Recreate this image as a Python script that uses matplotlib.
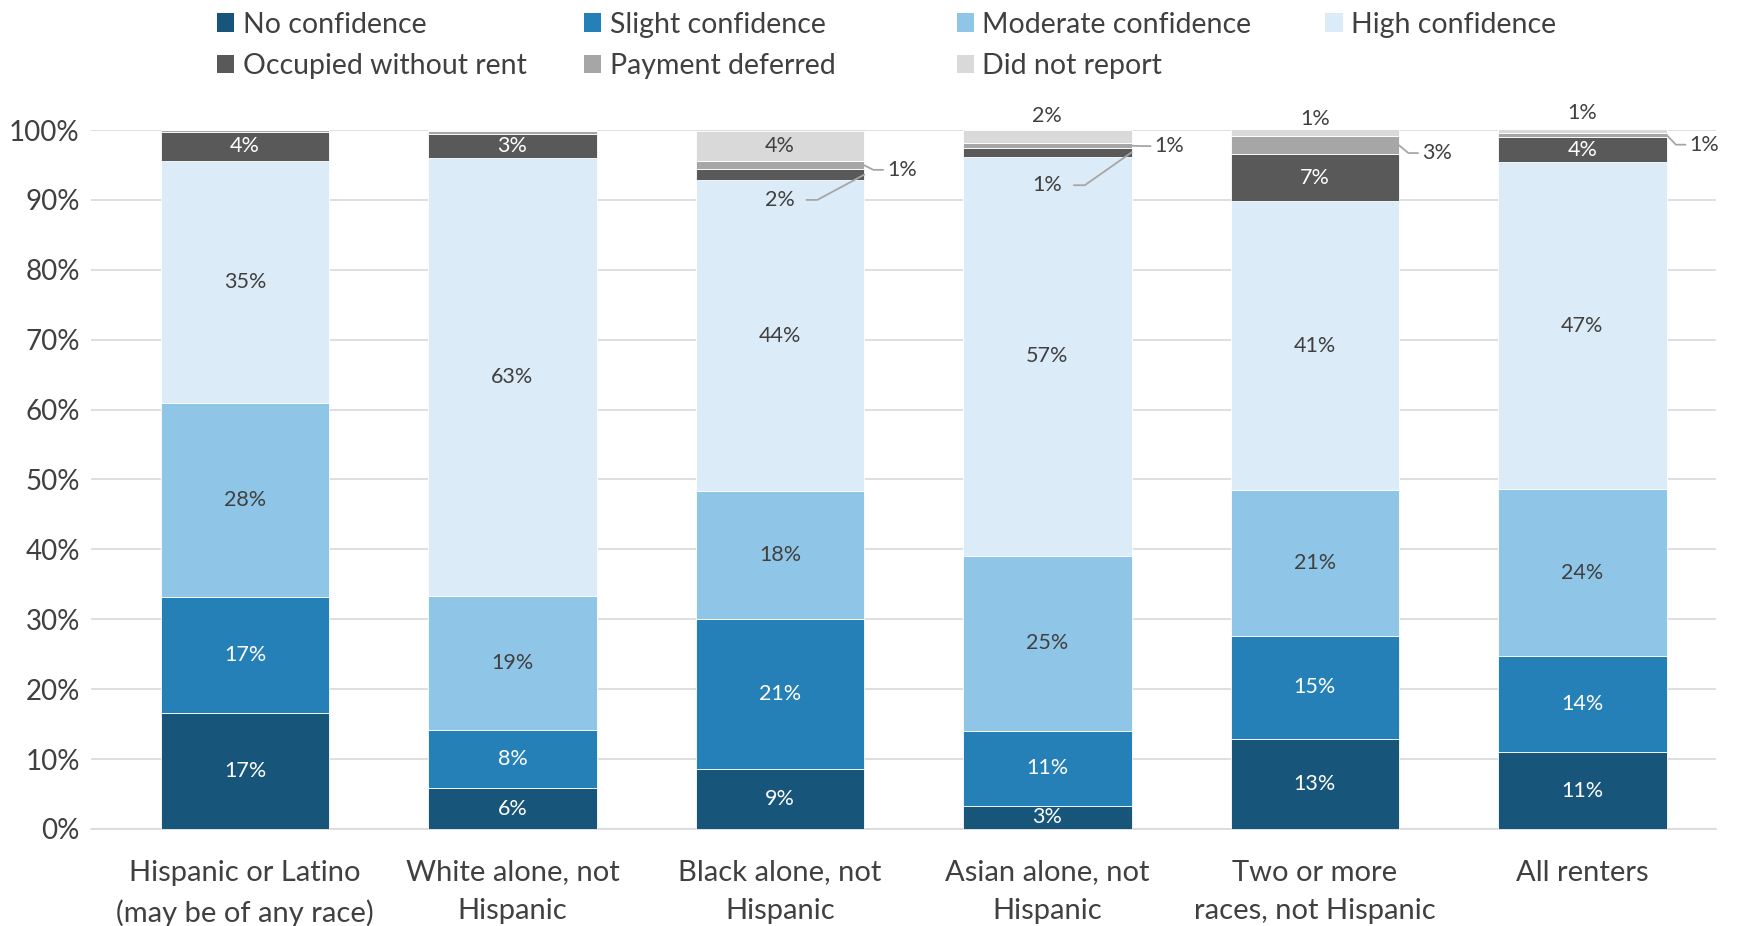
import matplotlib
matplotlib.use("Agg")
import math
import matplotlib.pyplot as plt
from matplotlib.patches import Patch

plt.rcParams['font.family'] = ['Lato', 'DejaVu Sans']

categories = ["Hispanic or Latino\n(may be of any race)", "White alone, not\nHispanic",
              "Black alone, not\nHispanic", "Asian alone, not\nHispanic",
              "Two or more\nraces, not Hispanic", "All renters"]

series_names = ["No confidence", "Slight confidence", "Moderate confidence", "High confidence",
                "Occupied without rent", "Payment deferred", "Did not report"]

no_confidence = [16.6, 5.8, 8.6, 3.3, 12.9, 11.0]
slight_confidence = [16.6, 8.3, 21.4, 10.7, 14.7, 13.7]
moderate_confidence = [27.8, 19.2, 18.4, 25.1, 20.9, 23.9]
high_confidence = [34.6, 62.7, 44.4, 57.1, 41.3, 46.8]
occupied_without_rent = [4.1, 3.4, 1.6, 1.2, 6.7, 3.6]
payment_deferred = [0.3, 0.4, 1.1, 0.7, 2.6, 0.6]
did_not_report = [0.0, 0.2, 4.3, 1.9, 1.1, 0.6]

colors = ["#17557a", "#2580b8", "#8fc6e8", "#dbebf7", "#595959", "#a6a6a6", "#d9d9d9"]
text_dark = "#404040"

series = [no_confidence, slight_confidence, moderate_confidence, high_confidence,
          occupied_without_rent, payment_deferred, did_not_report]

fig = plt.figure(figsize=(17.48, 9.26), dpi=100)
ax = fig.add_axes([0.052, 0.1048, 0.9297, 0.7548])

x = list(range(len(categories)))
width = 0.63
bottoms = [0.0] * len(categories)
bars = []
for vals, col, name in zip(series, colors, series_names):
    ax.bar(x, vals, width, bottom=bottoms, color=col, label=name,
           edgecolor="white", linewidth=0.6, zorder=3)
    bars.append((vals, list(bottoms)))
    bottoms = [bt + v for bt, v in zip(bottoms, vals)]

ax.set_xlim(-0.576, 5.5)
ax.set_ylim(0, 100)
ax.set_yticks(range(0, 101, 10))
ax.set_yticklabels([f"{t}%" for t in range(0, 101, 10)])
ax.set_xticks(x)
ax.set_xticklabels(categories, linespacing=1.6)
ax.tick_params(axis='y', length=0, pad=8, labelsize=20, labelcolor=text_dark)
ax.tick_params(axis='x', length=0, pad=22, labelsize=21, labelcolor=text_dark)
ax.grid(axis='y', color="#d9d9d9", linewidth=1.2, zorder=0)
for s in ["top", "right", "left"]:
    ax.spines[s].set_visible(False)
ax.spines["bottom"].set_color("#d9d9d9")
ax.spines["bottom"].set_linewidth(1.2)

label_size = 15.5
white_series = {0, 1, 4}


def pct(v):
    return f"{int(math.floor(v + 0.5))}%"


# labels centred inside segments
inside = {
    0: [0, 1, 2, 3, 4, 5],
    1: [0, 1, 2, 3, 4, 5],
    2: [0, 1, 2, 3, 4, 5],
    3: [0, 1, 2, 3, 4, 5],
    4: [0, 1, 4, 5],
    6: [2],
}
for si, idxs in inside.items():
    vals, bots = bars[si]
    for i in idxs:
        yc = bots[i] + vals[i] / 2
        ax.text(i, yc, pct(vals[i]), ha="center", va="center", fontsize=label_size,
                color="white" if si in white_series else text_dark, zorder=5)

# labels above the stack
for i, off in [(3, 2.0), (4, 1.6), (5, 2.5)]:
    vals, bots = bars[6]
    ax.text(i, 100 + off, pct(vals[i]), ha="center", va="center",
            fontsize=label_size, color=text_dark, clip_on=False)

leader = dict(color="#a6a6a6", linewidth=1.3, zorder=6, clip_on=False)
half = width / 2

# labels to the right of the bar with a short leader
for si, i, ly in [(5, 2, 94.3), (5, 3, 97.7), (5, 4, 96.7), (5, 5, 97.9)]:
    vals, bots = bars[si]
    ym = bots[i] + vals[i] / 2
    xe = i + half
    ax.plot([xe, xe + 0.035, xe + 0.07], [ym, ly, ly], **leader)
    ax.text(xe + 0.085, ly, pct(vals[i]), ha="left", va="center",
            fontsize=label_size, color=text_dark, zorder=6, clip_on=False)

# labels placed inside the bar below a thin segment
for si, i, ly in [(4, 2, 90.0), (4, 3, 92.1)]:
    vals, bots = bars[si]
    ym = bots[i] + vals[i] / 2
    xe = i + half
    ax.text(i, ly, pct(vals[i]), ha="center", va="center",
            fontsize=label_size, color=text_dark, zorder=6)
    ax.plot([i + 0.1, i + 0.14, xe], [ly, ly, ym], **leader)

# legend laid out in equal-width columns
handles = [Patch(facecolor=c, edgecolor="none") for c in colors]
columns = [[0, 4], [1, 5], [2, 6], [3]]
col_x = [0.1145, 0.3245, 0.5375, 0.7485]
for cx, idxs in zip(col_x, columns):
    fig.legend([handles[k] for k in idxs], [series_names[k] for k in idxs],
               loc="upper left", bbox_to_anchor=(cx, 1.006), frameon=False,
               fontsize=20.5, labelcolor=text_dark, handlelength=0.6, handleheight=0.6,
               handletextpad=0.3, labelspacing=0.55, borderaxespad=0.2)

fig.savefig("out.png", dpi=100, facecolor="white")
